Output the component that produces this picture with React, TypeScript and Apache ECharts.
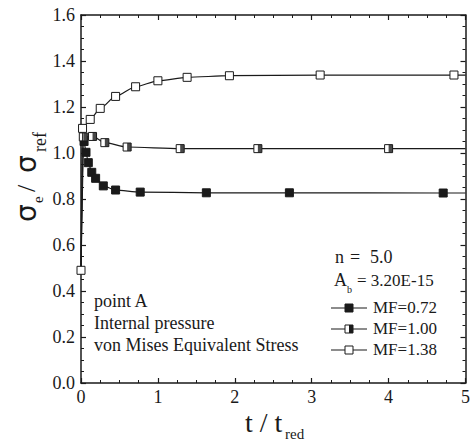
import React, { useEffect, useRef } from "react";
import * as echarts from "echarts";

const tMF072 = [0, 0.04, 0.065, 0.095, 0.14, 0.19, 0.29, 0.45, 0.77, 1.63, 2.71, 4.71, 5.0];
const vMF072 = [0.49, 1.05, 1.003, 0.958, 0.916, 0.89, 0.857, 0.839, 0.83, 0.827, 0.827, 0.826, 0.826];

const tMF100 = [0, 0.03, 0.15, 0.31, 0.6, 1.29, 2.3, 4.0, 5.0];
const vMF100 = [0.49, 1.07, 1.072, 1.045, 1.026, 1.019, 1.019, 1.019, 1.019];

const tMF138 = [0, 0.02, 0.12, 0.25, 0.45, 0.71, 1.0, 1.38, 1.93, 3.11, 4.85, 5.0];
const vMF138 = [0.49, 1.107, 1.146, 1.194, 1.246, 1.288, 1.314, 1.329, 1.336, 1.339, 1.339, 1.339];

const legendLabels = ["MF=0.72", "MF=1.00", "MF=1.38"];
const noteLines = ["point A", "Internal pressure", "von Mises Equivalent Stress"];

const SERIF_NAME = "Liberation Serif";
const SERIF = "'Liberation Serif', serif";
const INK = "#1a1a1a";

function toData(ts: number[], vs: number[], hideFirst: boolean) {
  return ts.map((t, i) => {
    const last = i === ts.length - 1;
    if (last || (hideFirst && i === 0)) return { value: [t, vs[i]], symbol: "none" };
    return { value: [t, vs[i]] };
  });
}

export default function App() {
  const ref = useRef<HTMLDivElement>(null);
  useEffect(() => {
    if (!ref.current) return;
    const chart = echarts.init(ref.current, null, { renderer: "svg" });

    const axisCommon = {
      type: "value" as const,
      axisLine: { show: true, onZero: false, lineStyle: { color: INK, width: 1.5 } },
      axisTick: { show: true, inside: true, length: 5, lineStyle: { color: INK, width: 1.2 } },
      minorTick: { show: true, splitNumber: 4, length: 3, lineStyle: { color: INK, width: 1 } },
      splitLine: { show: false },
    };

    const lineBase = {
      type: "line" as const,
      smooth: 0.25,
      smoothMonotone: "x" as const,
      symbol: "rect",
      symbolSize: 8,
      lineStyle: { color: INK, width: 1.2 },
      z: 3,
    };

    const halfMarks = tMF100
      .map((t, i) => [t, vMF100[i]])
      .filter((_, i) => i > 0 && i < tMF100.length - 1);

    const legendY = [308, 329, 350];
    const legendGraphics: any[] = [];
    legendLabels.forEach((lab, i) => {
      const y = legendY[i];
      legendGraphics.push({
        type: "line",
        shape: { x1: 331, y1: y, x2: 367, y2: y },
        style: { stroke: INK, lineWidth: 1.2 },
      });
      legendGraphics.push({
        type: "rect",
        shape: { x: 345, y: y - 4, width: 8, height: 8 },
        style: { fill: i === 0 ? INK : "#fff", stroke: INK, lineWidth: 1 },
      });
      if (i === 1) {
        legendGraphics.push({
          type: "rect",
          shape: { x: 349, y: y - 4, width: 4, height: 8 },
          style: { fill: INK },
        });
      }
      legendGraphics.push({
        type: "text",
        x: 373,
        y: y - 1,
        style: { text: lab, font: `17px ${SERIF}`, fill: INK, textVerticalAlign: "middle" },
      });
    });

    const noteGraphics = noteLines.map((s, i) => ({
      type: "text",
      x: 94,
      y: 301 + i * 22,
      style: { text: s, font: `18px ${SERIF}`, fill: INK, textVerticalAlign: "middle" },
    }));

    const tickRich = { t: { fontFamily: SERIF_NAME, fontSize: 18, color: INK } };

    chart.setOption({
      animation: false,
      backgroundColor: "#fff",
      textStyle: { fontFamily: SERIF_NAME },
      grid: { left: 81, right: 4, top: 15, bottom: 60, containLabel: false },
      xAxis: [
        {
          ...axisCommon,
          position: "bottom",
          min: 0,
          max: 5,
          interval: 1,
          axisLabel: {
            fontFamily: SERIF_NAME,
            fontSize: 18,
            color: INK,
            margin: 5,
            formatter: (v: number) => `{t|${v}}`,
            rich: tickRich,
          },
        },
        {
          ...axisCommon,
          position: "top",
          min: 0,
          max: 5,
          interval: 1,
          axisLabel: { show: false },
        },
      ],
      yAxis: [
        {
          ...axisCommon,
          position: "left",
          min: 0,
          max: 1.6,
          interval: 0.2,
          axisLabel: {
            fontFamily: SERIF_NAME,
            fontSize: 18,
            color: INK,
            margin: 6,
            formatter: (v: number) => `{t|${v.toFixed(1)}}`,
            rich: tickRich,
          },
        },
        {
          ...axisCommon,
          position: "right",
          min: 0,
          max: 1.6,
          interval: 0.2,
          axisLabel: { show: false },
        },
      ],
      series: [
        {
          ...lineBase,
          name: "MF=0.72",
          data: toData(tMF072, vMF072, true),
          itemStyle: { color: INK, borderColor: INK, borderWidth: 1 },
        },
        {
          ...lineBase,
          name: "MF=1.00",
          data: toData(tMF100, vMF100, true),
          itemStyle: { color: "#fff", borderColor: INK, borderWidth: 1 },
        },
        {
          type: "scatter",
          name: "MF=1.00 half",
          data: halfMarks,
          symbol: "rect",
          symbolSize: [4, 8],
          symbolOffset: [2, 0],
          itemStyle: { color: INK },
          z: 4,
        },
        {
          ...lineBase,
          name: "MF=1.38",
          data: toData(tMF138, vMF138, false),
          itemStyle: { color: "#fff", borderColor: INK, borderWidth: 1 },
          z: 5,
        },
      ],
      graphic: [
        {
          type: "group",
          x: 26,
          y: 222,
          rotation: Math.PI / 2,
          children: [
            { type: "text", x: 0, y: 0, style: { text: "σ", font: `28px 'DejaVu Sans', sans-serif`, fill: INK, textVerticalAlign: "middle" } },
            { type: "text", x: 19, y: 12, style: { text: "e", font: `15px ${SERIF}`, fill: INK, textVerticalAlign: "middle" } },
            { type: "text", x: 30, y: 0, style: { text: "/", font: `26px ${SERIF}`, fill: INK, textVerticalAlign: "middle" } },
            { type: "text", x: 49, y: 0, style: { text: "σ", font: `28px 'DejaVu Sans', sans-serif`, fill: INK, textVerticalAlign: "middle" } },
            { type: "text", x: 70, y: 14, style: { text: "ref", font: `18px ${SERIF}`, fill: INK, textVerticalAlign: "middle" } },
          ],
        },
        { type: "text", x: 245, y: 422, style: { text: "t / t", font: `28px ${SERIF}`, fill: INK, textVerticalAlign: "middle" } },
        { type: "text", x: 285, y: 434, style: { text: "red", font: `15px ${SERIF}`, fill: INK, textVerticalAlign: "middle" } },
        { type: "text", x: 335, y: 257, style: { text: "n", font: `18px ${SERIF}`, fill: INK, textVerticalAlign: "middle" } },
        { type: "text", x: 350, y: 257, style: { text: "=", font: `18px ${SERIF}`, fill: INK, textVerticalAlign: "middle" } },
        { type: "text", x: 370, y: 257, style: { text: "5.0", font: `18px ${SERIF}`, fill: INK, textVerticalAlign: "middle" } },
        { type: "text", x: 334, y: 280, style: { text: "A", font: `18px ${SERIF}`, fill: INK, textVerticalAlign: "middle" } },
        { type: "text", x: 347, y: 289, style: { text: "b", font: `10px ${SERIF}`, fill: INK, textVerticalAlign: "middle" } },
        { type: "text", x: 357, y: 280, style: { text: "= 3.20E-15", font: `17px ${SERIF}`, fill: INK, textVerticalAlign: "middle" } },
        ...legendGraphics,
        ...noteGraphics,
      ],
    });

    return () => chart.dispose();
  }, []);

  return <div ref={ref} style={{ width: 473, height: 443, position: "absolute", left: 0, top: 0 }} />;
}
